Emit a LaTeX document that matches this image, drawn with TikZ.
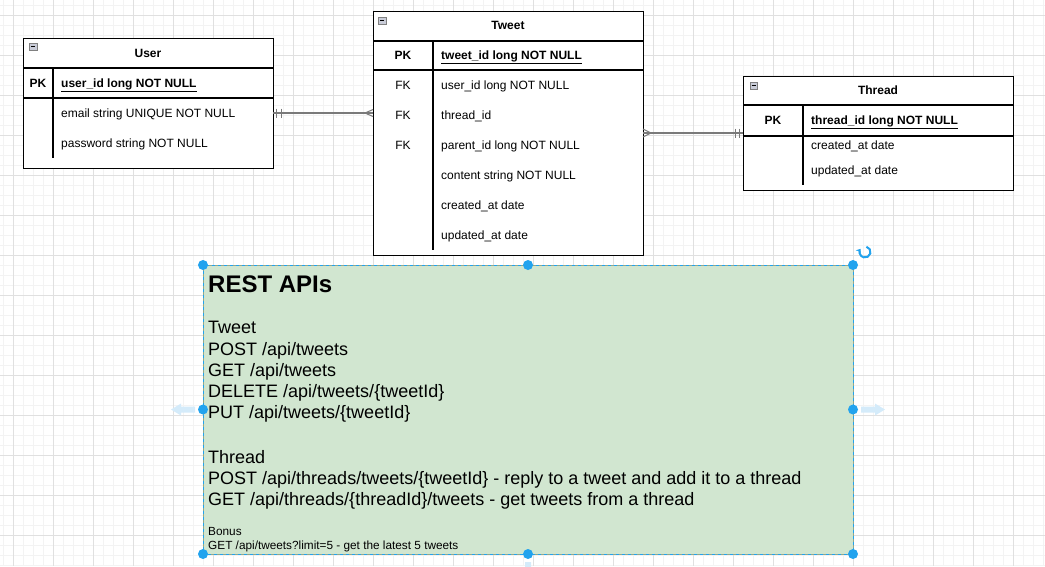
\documentclass[tikz,border=0pt]{standalone}
\usepackage{fontspec}
\setmainfont{Liberation Sans}
\usetikzlibrary{positioning,arrows.meta}
\definecolor{gridminor}{HTML}{F3F3F3}
\definecolor{gridmajor}{HTML}{E0E0E0}
\definecolor{relgray}{HTML}{7A7A7A}
\definecolor{apigreen}{HTML}{D1E6D0}
\definecolor{apiborder}{HTML}{8FA88C}
\definecolor{selblue}{HTML}{22A3EE}
\definecolor{hintblue}{HTML}{D4EBFA}
\definecolor{iconfill}{HTML}{C9CCD8}

\begin{document}
\begin{tikzpicture}[x=1pt, y=-1pt,
  tblframe/.style={draw=black, fill=white, line width=1pt, anchor=north west, inner sep=0pt, outer sep=0pt},
  tblline/.style={draw=black, line width=1.1pt},
  tbltitle/.style={font=\bfseries\fontsize{12}{14}\selectfont, inner sep=0pt},
  keycell/.style={font=\fontsize{12}{14}\selectfont, inner sep=0pt, text height=8.6pt, text depth=0pt},
  fieldcell/.style={font=\fontsize{12}{14}\selectfont, inner sep=0pt, anchor=west, text height=8.6pt, text depth=0pt},
  rel/.style={draw=relgray, line width=1.4pt},
  apitext/.style={font=\fontsize{18}{21}\selectfont, anchor=base west, inner sep=0pt},
  bonustext/.style={font=\fontsize{11.8}{14}\selectfont, anchor=base west, inner sep=0pt},
  handle/.style={fill=selblue}]
\useasboundingbox (0,0) rectangle (1045,566);
\clip (0,0) rectangle (1045,566);

% grid
\foreach \gx in {3,13,...,1043} \draw[gridminor, line width=1pt] (\gx,0) -- (\gx,566);
\foreach \gy in {5,15,...,565} \draw[gridminor, line width=1pt] (0,\gy) -- (1045,\gy);
\foreach \gx in {13,53,...,1013} \draw[gridmajor, line width=1pt] (\gx,0) -- (\gx,566);
\foreach \gy in {15,55,...,535} \draw[gridmajor, line width=1pt] (0,\gy) -- (1045,\gy);

%============ User
\node[tblframe, minimum width=250pt, minimum height=130pt] (user) at (23,38) {};
\draw[draw=gray, fill=iconfill, line width=0.6pt] ([shift={(6,5)}]user.north west) rectangle ++(8,7);
\draw[black, line width=0.8pt] ([shift={(8,8.5)}]user.north west) -- ++(4,0);
\node[tbltitle] (usertitle) at (148,53) {User};
\draw[tblline] (23,68) -- (273,68);
\draw[tblline] (23,98) -- (273,98);
\draw[tblline] (53,68) -- (53,158);
\node[keycell, font=\bfseries\fontsize{12}{14}\selectfont] (userpk) at (38,83) {PK};
\node[fieldcell, font=\bfseries\fontsize{12}{14}\selectfont] (userid) at (61,83) {\underline{user\_id long NOT NULL}};
\node[fieldcell] (useremail) at (61,113) {email string UNIQUE NOT NULL};
\node[fieldcell] (userpass) at (61,143) {password string NOT NULL};

%============ Tweet
\node[tblframe, minimum width=270pt, minimum height=244pt] (tweet) at (373,11) {};
\draw[draw=gray, fill=iconfill, line width=0.6pt] ([shift={(5,6)}]tweet.north west) rectangle ++(8,7);
\draw[black, line width=0.8pt] ([shift={(7,9.5)}]tweet.north west) -- ++(4,0);
\node[tbltitle] (tweettitle) at (508,25) {Tweet};
\draw[tblline] (373,41) -- (643,41);
\draw[tblline] (373,70) -- (643,70);
\draw[tblline] (433,41) -- (433,250);
\node[keycell, font=\bfseries\fontsize{12}{14}\selectfont] (tweetpk) at (403,55) {PK};
\node[keycell] (tweetfka) at (403,85) {FK};
\node[keycell] (tweetfkb) at (403,115) {FK};
\node[keycell] (tweetfkc) at (403,145) {FK};
\node[fieldcell, font=\bfseries\fontsize{12}{14}\selectfont] (tweetid) at (441,55) {\underline{tweet\_id long NOT NULL}};
\node[fieldcell] (tweetuser) at (441,85) {user\_id long NOT NULL};
\node[fieldcell] (tweetthread) at (441,115) {thread\_id};
\node[fieldcell] (tweetparent) at (441,145) {parent\_id long NOT NULL};
\node[fieldcell] (tweetcontent) at (441,175) {content string NOT NULL};
\node[fieldcell] (tweetcreated) at (441,205) {created\_at date};
\node[fieldcell] (tweetupdated) at (441,235) {updated\_at date};

%============ Thread
\node[tblframe, minimum width=270pt, minimum height=114pt] (thread) at (743,76) {};
\draw[draw=gray, fill=iconfill, line width=0.6pt] ([shift={(7,6)}]thread.north west) rectangle ++(7,7);
\draw[black, line width=0.8pt] ([shift={(8.5,9.5)}]thread.north west) -- ++(4,0);
\node[tbltitle] (threadtitle) at (878,90) {Thread};
\draw[tblline] (743,105) -- (1013,105);
\draw[tblline] (743,136) -- (1013,136);
\draw[tblline] (803,105) -- (803,185);
\node[keycell, font=\bfseries\fontsize{12}{14}\selectfont] (threadpk) at (773,120) {PK};
\node[fieldcell, font=\bfseries\fontsize{12}{14}\selectfont] (threadid) at (811,120) {\underline{thread\_id long NOT NULL}};
\node[fieldcell] (threadcreated) at (811,145) {created\_at date};
\node[fieldcell] (threadupdated) at (811,170) {updated\_at date};

%============ relations
\coordinate (ue) at (user.east |- useremail);
\coordinate (tw) at (tweet.west |- useremail);
\draw[rel] (ue) -- (tw);
\draw[rel, line width=1pt] ([xshift=3pt]ue) +(0,-4.5) -- +(0,4.5);
\draw[rel, line width=1pt] ([xshift=8pt]ue) +(0,-4.5) -- +(0,4.5);
\draw[rel, line width=1pt] ([xshift=-8pt]tw) -- ([yshift=3.5pt]tw);
\draw[rel, line width=1pt] ([xshift=-8pt]tw) -- ([yshift=-3.5pt]tw);

\coordinate (te) at (643,133);
\coordinate (hw) at (thread.west |- te);
\draw[rel] (te) -- (hw);
\draw[rel, line width=1pt] ([xshift=8pt]te) -- ([yshift=4pt]te);
\draw[rel, line width=1pt] ([xshift=8pt]te) -- ([yshift=-4pt]te);
\draw[rel, line width=1pt] ([xshift=-8pt]hw) +(0,-4.5) -- +(0,4.5);
\draw[rel, line width=1pt] ([xshift=-4pt]hw) +(0,-4.5) -- +(0,4.5);

%============ REST APIs
\node[draw=apiborder, fill=apigreen, line width=0.8pt, anchor=north west, inner sep=0pt, outer sep=0pt, minimum width=650pt, minimum height=289pt] (api) at (203,265) {};
\draw[selblue, line width=0.8pt, dash pattern=on 3pt off 3pt] (api.north west) rectangle (api.south east);
\node[font=\bfseries\fontsize{24}{29}\selectfont, anchor=base west, inner sep=0pt] (apititle) at (208,292) {REST APIs};
\node[apitext] (tweethead) at (208,333) {Tweet};
\node[apitext] (tweetpost) at (208,355) {POST /api/tweets};
\node[apitext] (tweetget) at (208,376) {GET /api/tweets};
\node[apitext] (tweetdelete) at (208,397) {DELETE /api/tweets/\{tweetId\}};
\node[apitext] (tweetput) at (208,418) {PUT /api/tweets/\{tweetId\}};
\node[apitext] (threadhead) at (208,463) {Thread};
\node[apitext] (threadpost) at (208,484) {POST /api/threads/tweets/\{tweetId\} - reply to a tweet and add it to a thread};
\node[apitext] (threadget) at (208,505) {GET /api/threads/\{threadId\}/tweets - get tweets from a thread};
\node[bonustext] (bonushead) at (208,535) {Bonus};
\node[bonustext] (bonusget) at (208,549) {GET /api/tweets?limit=5 - get the latest 5 tweets};

% selection handles
\foreach \h in {north west, north, north east, west, east, south west, south, south east}
  \fill[handle] (api.\h) circle (5);
\draw[selblue, line width=2pt, -{Stealth[length=4pt, width=6pt]}] ([shift={(12,-13)}]api.north east) ++(75:5.5pt) arc[start angle=75, end angle=-215, radius=5.5pt];
\fill[hintblue] ([xshift=-32pt]api.west) -- ++(10,-6) -- ++(0,3) -- ++(14,0) -- ++(0,6) -- ++(-14,0) -- ++(0,3) -- cycle;
\fill[hintblue] ([xshift=32pt]api.east) -- ++(-10,-6) -- ++(0,3) -- ++(-14,0) -- ++(0,6) -- ++(14,0) -- ++(0,3) -- cycle;
\fill[hintblue] ([yshift=-32pt]api.south) -- ++(-6,-10) -- ++(3,0) -- ++(0,-14) -- ++(6,0) -- ++(0,14) -- ++(3,0) -- cycle;

\end{tikzpicture}
\end{document}
